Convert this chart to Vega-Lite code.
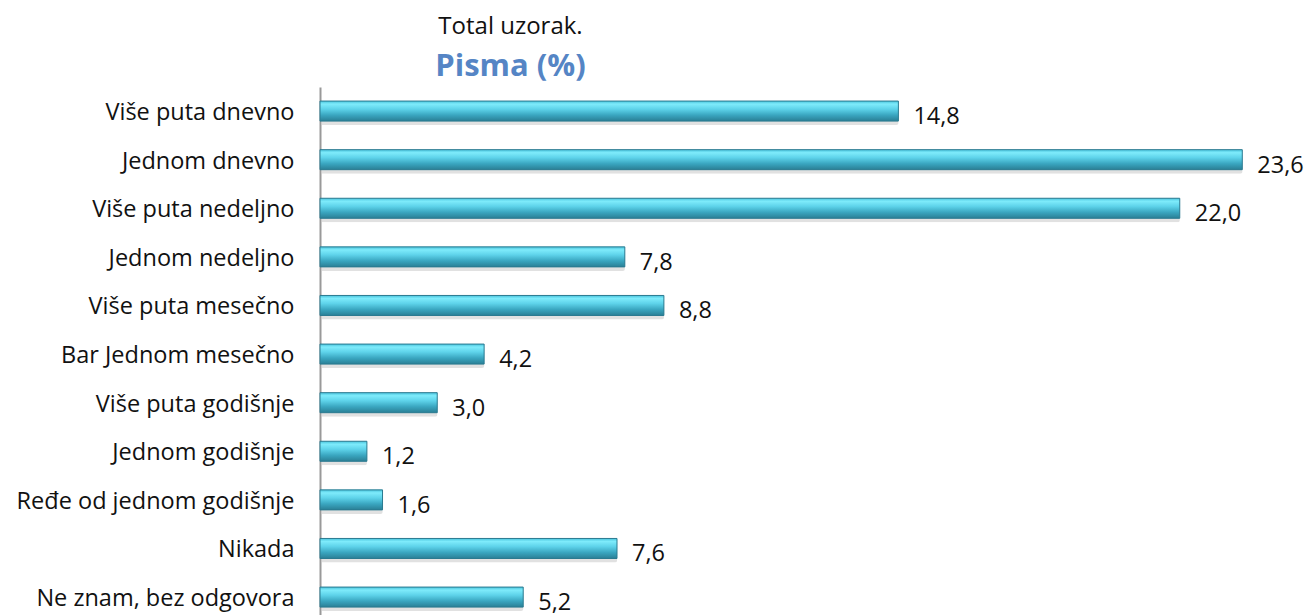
{
  "$schema": "https://vega.github.io/schema/vega-lite/v6.json",
  "width": 977,
  "height": 528,
  "autosize": {"type": "none"},
  "padding": {"left": 320, "top": 87, "right": 12, "bottom": 0},
  "background": "white",
  "config": {"view": {"stroke": null}, "font": "Open Sans"},
  "title": {
    "text": "Total uzorak.",
    "subtitle": "Pisma (%)",
    "anchor": "middle",
    "dx": -298,
    "offset": 5,
    "font": "Open Sans",
    "fontSize": 24,
    "fontWeight": "normal",
    "color": "#111111",
    "subtitleFont": "Open Sans",
    "subtitleFontSize": 31,
    "subtitleFontWeight": "bold",
    "subtitleColor": "#5585C5",
    "subtitlePadding": 13
  },
  "data": {
    "values": [
      {"category": "Više puta dnevno", "value": 14.8, "label": "14,8"},
      {"category": "Jednom dnevno", "value": 23.6, "label": "23,6"},
      {"category": "Više puta nedeljno", "value": 22.0, "label": "22,0"},
      {"category": "Jednom nedeljno", "value": 7.8, "label": "7,8"},
      {"category": "Više puta mesečno", "value": 8.8, "label": "8,8"},
      {"category": "Bar Jednom mesečno", "value": 4.2, "label": "4,2"},
      {"category": "Više puta godišnje", "value": 3.0, "label": "3,0"},
      {"category": "Jednom godišnje", "value": 1.2, "label": "1,2"},
      {"category": "Ređe od jednom godišnje", "value": 1.6, "label": "1,6"},
      {"category": "Nikada", "value": 7.6, "label": "7,6"},
      {"category": "Ne znam, bez odgovora", "value": 5.2, "label": "5,2"}
    ]
  },
  "encoding": {
    "y": {
      "field": "category",
      "type": "nominal",
      "sort": null,
      "scale": {"paddingInner": 0.588, "paddingOuter": 0.226, "align": 0.64},
      "axis": {
        "title": null,
        "ticks": false,
        "labelPadding": 26,
        "labelOffset": 2,
        "labelFont": "Open Sans",
        "labelFontSize": 23.5,
        "labelColor": "#111111",
        "domainColor": "#999999",
        "domainWidth": 2,
        "labelLimit": 400
      }
    },
    "x": {
      "field": "value",
      "type": "quantitative",
      "scale": {"domain": [0, 25], "nice": false},
      "axis": null
    }
  },
  "layer": [
    {
      "mark": {"type": "bar", "color": "#888888", "opacity": 0.25, "yOffset": 4, "xOffset": 2, "cornerRadius": 2},
      "encoding": {}
    },
    {
      "mark": {
        "type": "bar",
        "stroke": "#2A7A90",
        "strokeWidth": 1,
        "color": {
          "gradient": "linear",
          "x1": 0, "y1": 0, "x2": 0, "y2": 1,
          "stops": [
            {"offset": 0, "color": "#49C3DC"},
            {"offset": 0.15, "color": "#7EEBFB"},
            {"offset": 0.4, "color": "#5ED3EA"},
            {"offset": 0.7, "color": "#3AA6C0"},
            {"offset": 1, "color": "#2A7F95"}
          ]
        }
      },
      "encoding": {}
    },
    {
      "mark": {"type": "text", "align": "left", "baseline": "middle", "dx": 15, "dy": 6, "font": "Open Sans", "fontSize": 23.5, "color": "#111111"},
      "encoding": {"text": {"field": "label", "type": "nominal"}}
    }
  ]
}
